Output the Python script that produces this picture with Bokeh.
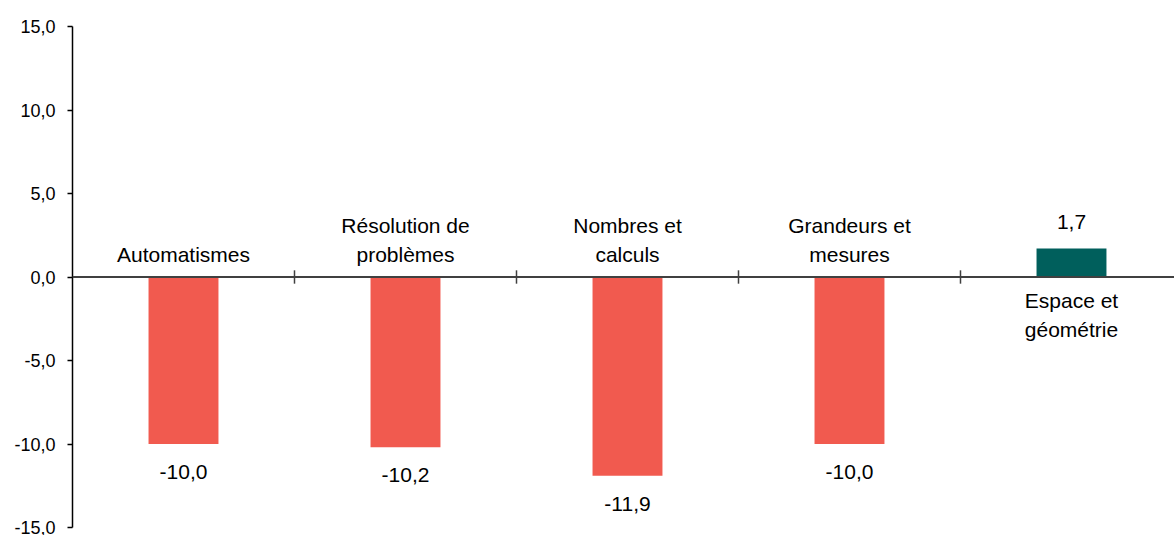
from bokeh.plotting import figure
from bokeh.models import Range1d, FixedTicker, CustomJSTickFormatter, Span, ColumnDataSource
from bokeh.core.properties import value
from bokeh.embed import file_html
from bokeh.resources import INLINE

categories = ["Automatismes", "Résolution de\nproblèmes", "Nombres et\ncalculs",
              "Grandeurs et\nmesures", "Espace et\ngéométrie"]
values = [-10.0, -10.2, -11.9, -10.0, 1.7]
colors = ["#F15A4F", "#F15A4F", "#F15A4F", "#F15A4F", "#005F5C"]
y_ticks = [-15, -10, -5, 0, 5, 10, 15]

FONT = "Liberation Sans"

n = len(categories)
xs = [i + 0.5 for i in range(n)]
labels = [f"{v:.1f}".replace(".", ",") for v in values]

p = figure(width=1174, height=535, output_backend="svg", toolbar_location=None,
           x_range=Range1d(0.0, 4.964), y_range=Range1d(-15, 15),
           min_border_left=72, min_border_right=0, min_border_top=26, min_border_bottom=8)
p.xaxis.visible = False
p.grid.visible = False
p.outline_line_color = None
p.background_fill_color = "white"
p.border_fill_color = "white"

ya = p.yaxis[0]
ya.ticker = FixedTicker(ticks=y_ticks)
ya.formatter = CustomJSTickFormatter(code="return tick.toFixed(1).replace('.', ',');")
ya.axis_line_color = "black"
ya.axis_line_width = 1.5
ya.major_tick_line_color = "black"
ya.major_tick_line_width = 1.5
ya.major_tick_out = 5
ya.major_tick_in = 0
ya.minor_tick_line_color = None
ya.major_label_text_font = FONT
ya.major_label_text_font_size = "18px"
ya.major_label_text_color = "black"
ya.major_label_standoff = 12

src = ColumnDataSource(dict(x=xs, top=values, color=colors, cat=categories, lab=labels))
p.vbar(x="x", top="top", bottom=0, width=0.315, color="color", source=src, line_color=None)

# zero line
p.add_layout(Span(location=0, dimension="width", line_color="#404040", line_width=2))
p.segment(x0=[-0.025], x1=[0.0], y0=[0], y1=[0], line_color="#404040", line_width=2)
# category separators
bx = list(range(1, n))
p.segment(x0=bx, x1=bx, y0=[-0.4] * len(bx), y1=[0.4] * len(bx), line_color="#404040", line_width=1.5)

neg = [i for i, v in enumerate(values) if v < 0]
pos = [i for i, v in enumerate(values) if v >= 0]

def sub(idx):
    return ColumnDataSource(dict(x=[xs[i] for i in idx], y=[values[i] for i in idx],
                                 cat=[categories[i] for i in idx], lab=[labels[i] for i in idx],
                                 zero=[0] * len(idx)))

sn, sp = sub(neg), sub(pos)
common = dict(text_font=value(FONT), text_font_size="21px", text_color="black",
              text_align="center", text_line_height=1.28)
# category labels
p.text(x="x", y="zero", text="cat", source=sn, text_baseline="bottom", y_offset=-11, **common)
p.text(x="x", y="zero", text="cat", source=sp, text_baseline="top", y_offset=12, **common)
# value labels
p.text(x="x", y="y", text="lab", source=sn, text_baseline="top", y_offset=21, **common)
p.text(x="x", y="y", text="lab", source=sp, text_baseline="bottom", y_offset=-20, **common)

open("out.html", "w").write(file_html(p, INLINE))
